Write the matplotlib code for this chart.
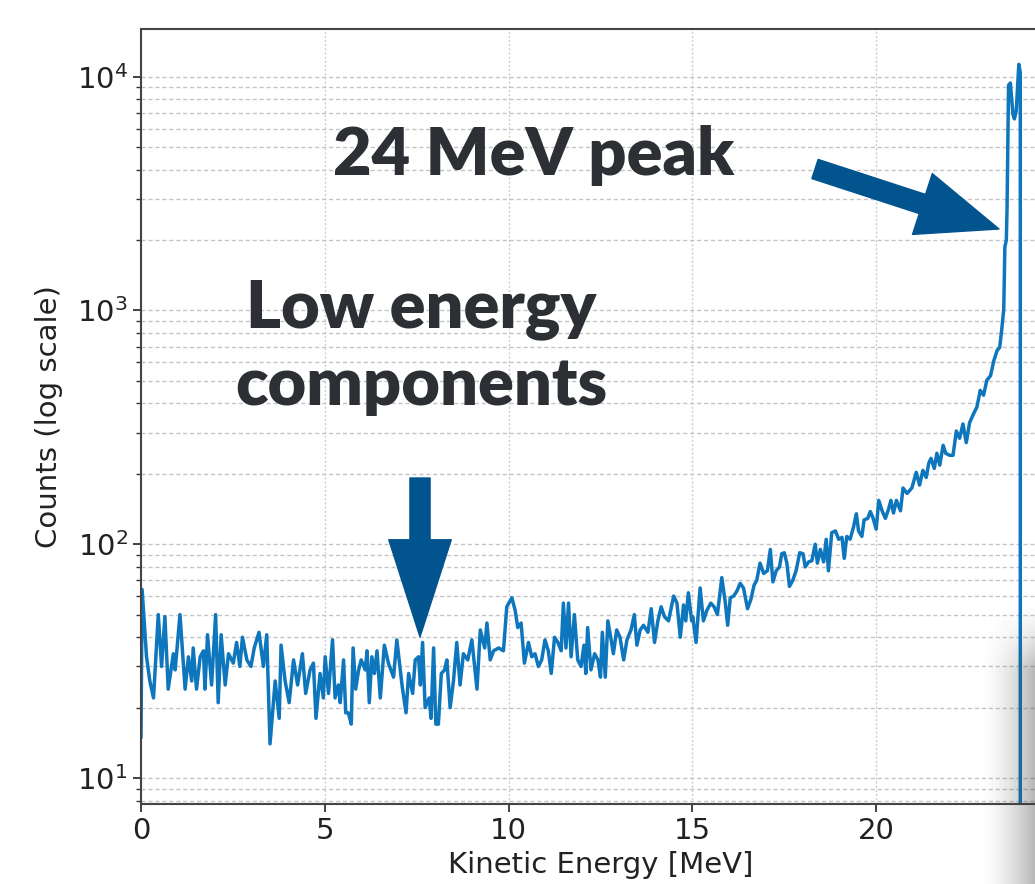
import matplotlib
matplotlib.use("Agg")
import matplotlib.pyplot as plt
import numpy as np

# Spectrum (energy in MeV, counts per bin)
energy_0_5 = [0.00, 0.03, 0.15, 0.24, 0.34, 0.47, 0.56, 0.65, 0.74, 0.88, 0.93, 1.06, 1.20, 1.29,
              1.38, 1.42, 1.51, 1.61, 1.70, 1.74, 1.81, 1.92, 2.03, 2.10, 2.18, 2.29, 2.38, 2.51,
              2.60, 2.69, 2.76, 2.88, 2.99, 3.08, 3.21, 3.33, 3.42, 3.51, 3.65, 3.76, 3.81, 3.92,
              4.03, 4.15, 4.26, 4.39, 4.48, 4.60, 4.69, 4.76, 4.87, 4.96]
counts_0_5 = [15, 64, 33, 26, 22, 50, 30, 49, 24, 34, 29, 50, 24, 33,
              26, 36, 24, 33, 35, 24, 41, 25, 50, 21, 41, 25, 34, 31,
              38, 30, 40, 32, 30, 36, 42, 30, 41, 14, 26, 18, 37, 26,
              21, 32, 25, 34, 23, 29, 31, 18, 28, 22]

energy_5_10 = [5.01, 5.10, 5.21, 5.28, 5.37, 5.42, 5.51, 5.57, 5.64, 5.72, 5.77, 5.84, 5.92, 5.99,
               6.10, 6.15, 6.21, 6.28, 6.35, 6.42, 6.51, 6.62, 6.73, 6.87, 6.96, 7.10, 7.21, 7.28,
               7.39, 7.46, 7.55, 7.60, 7.66, 7.73, 7.84, 7.89, 7.96, 8.02, 8.09, 8.17, 8.26, 8.32,
               8.41, 8.50, 8.59, 8.68, 8.77, 8.89, 9.00, 9.14, 9.23, 9.35, 9.41, 9.50, 9.59, 9.73,
               9.86, 9.95]
counts_5_10 = [33, 23, 39, 22, 25, 21, 32, 19, 19, 17, 36, 24, 29, 32,
               29, 35, 21, 33, 28, 35, 22, 37, 31, 27, 39, 25, 19, 28,
               23, 32, 33, 25, 38, 20, 22, 18, 36, 17, 17, 28, 29, 32,
               20, 26, 38, 25, 34, 32, 39, 24, 43, 36, 46, 32, 35, 36,
               35, 54]

energy_10_15 = [10.09, 10.18, 10.25, 10.34, 10.43, 10.54, 10.63, 10.72, 10.81, 10.90, 10.99, 11.08,
                11.16, 11.25, 11.34, 11.43, 11.49, 11.56, 11.63, 11.70, 11.79, 11.88, 11.97, 12.05,
                12.10, 12.15, 12.24, 12.34, 12.43, 12.50, 12.55, 12.63, 12.70, 12.79, 12.85, 12.94,
                13.03, 13.13, 13.22, 13.33, 13.42, 13.49, 13.58, 13.67, 13.79, 13.88, 13.97, 14.06,
                14.15, 14.24, 14.35, 14.49, 14.58, 14.67, 14.76, 14.82, 14.89, 14.98]
counts_10_15 = [59, 52, 44, 46, 31, 38, 33, 34, 30, 32, 39, 35,
                28, 40, 38, 35, 56, 36, 56, 33, 50, 32, 30, 37,
                28, 44, 29, 34, 32, 27, 42, 27, 47, 39, 34, 43,
                40, 32, 39, 43, 50, 37, 43, 45, 42, 53, 38, 47,
                54, 49, 47, 60, 56, 40, 55, 47, 62, 47]

energy_15_20 = [15.01, 15.10, 15.21, 15.30, 15.39, 15.50, 15.59, 15.68, 15.80, 15.89, 15.96, 16.03,
                16.12, 16.21, 16.30, 16.39, 16.50, 16.59, 16.68, 16.75, 16.84, 16.94, 17.04, 17.12,
                17.19, 17.28, 17.37, 17.43, 17.50, 17.57, 17.64, 17.73, 17.82, 17.92, 18.01, 18.07,
                18.16, 18.25, 18.34, 18.40, 18.48, 18.57, 18.64, 18.70, 18.79, 18.89, 18.98, 19.07,
                19.13, 19.20, 19.29, 19.38, 19.46, 19.52, 19.61, 19.67, 19.77, 19.84, 19.91, 20.00]
counts_15_20 = [49, 38, 65, 47, 52, 56, 54, 50, 72, 57, 45, 59,
                60, 63, 68, 65, 53, 58, 67, 70, 83, 75, 77, 95,
                69, 77, 80, 91, 92, 83, 66, 70, 77, 92, 91, 80,
                84, 85, 100, 83, 95, 84, 105, 77, 112, 114, 105, 107,
                87, 108, 105, 118, 135, 114, 108, 127, 129, 138, 130, 116]

energy_20_25 = [20.07, 20.16, 20.25, 20.34, 20.40, 20.47, 20.55, 20.66, 20.73, 20.84, 20.97, 21.09,
                21.18, 21.27, 21.36, 21.43, 21.49, 21.58, 21.65, 21.73, 21.82, 21.89, 22.00, 22.09,
                22.18, 22.27, 22.36, 22.45, 22.54, 22.65, 22.74, 22.83, 22.92, 23.01, 23.11, 23.20,
                23.29, 23.36, 23.42, 23.47, 23.50, 23.54, 23.56, 23.60, 23.65, 23.72, 23.76, 23.81,
                23.88, 23.92, 23.95, 25.00]
counts_20_25 = [154, 139, 129, 142, 154, 136, 154, 139, 174, 165, 174, 203,
                179, 207, 193, 222, 233, 211, 245, 218, 265, 245, 240, 240,
                305, 284, 327, 272, 331, 362, 386, 455, 434, 503, 526, 610,
                675, 695, 843, 1015, 1870, 2000, 2760, 9200, 9400, 6900, 6600, 7150,
                11300, 10400, 0, 0]

energy = energy_0_5 + energy_5_10 + energy_10_15 + energy_15_20 + energy_20_25
counts = counts_0_5 + counts_5_10 + counts_10_15 + counts_15_20 + counts_20_25

line_color = "#0e76bc"
arrow_color = "#02548f"
text_color = "#2c2f33"

W, H = 1035, 884
fig = plt.figure(figsize=(W / 100, H / 100), dpi=100)
fig.patch.set_facecolor("white")

# axes run past the right edge, as in the cropped screenshot
ax = fig.add_axes([141 / W, 80 / H, (1060 - 141) / W, (804 - 29) / H])
ax.plot(energy, counts, color=line_color, lw=2.5)
ax.set_yscale("log", nonpositive="clip")
ax.set_xlim(0, 25)
ax.set_ylim(7.74, 16000)
ax.set_xticks([0, 5, 10, 15, 20])

ax.grid(which="both", axis="y", ls=(0, (3, 2)), color="#c4c4c4", lw=1.0)
ax.grid(which="major", axis="x", ls=(0, (1.5, 1.5)), color="#cccccc", lw=1.0)
ax.tick_params(which="major", labelsize=21, length=6, width=1.3, colors="#333333", labelcolor="#222222")
ax.tick_params(which="minor", length=3.5, width=1.0, colors="#333333")
for s in ax.spines.values():
    s.set_color("#444444")
    s.set_linewidth(1.5)

ax.set_xlabel("Kinetic Energy [MeV]", fontsize=21, color="#222222", labelpad=4)
ax.set_ylabel("Counts (log scale)", fontsize=21, color="#222222", labelpad=10)

# annotations
fig.text(534 / W, 1 - 155 / H, "24 MeV peak", fontsize=48, fontweight="heavy", family="Lato",
         color=text_color, ha="center", va="center")
fig.text(421 / W, 1 - 310 / H, "Low energy", fontsize=48, fontweight="heavy", family="Lato",
         color=text_color, ha="center", va="center")
fig.text(421 / W, 1 - 385 / H, "components", fontsize=48, fontweight="heavy", family="Lato",
         color=text_color, ha="center", va="center")

ax.annotate("", xy=(999, H - 229), xycoords="figure pixels",
            xytext=(815, H - 169), textcoords="figure pixels",
            arrowprops=dict(arrowstyle="simple,head_length=0.58,head_width=0.46,tail_width=0.145",
                            mutation_scale=100, color=arrow_color, shrinkA=0, shrinkB=0))
ax.annotate("", xy=(420, H - 637), xycoords="figure pixels",
            xytext=(420, H - 478), textcoords="figure pixels",
            arrowprops=dict(arrowstyle="simple,head_length=0.70,head_width=0.45,tail_width=0.145",
                            mutation_scale=100, color=arrow_color, shrinkA=0, shrinkB=0))

# grey page shadow in the lower right corner, fading in from the top and left
sh = fig.add_axes([980 / W, 0, 55 / W, (884 - 600) / H], zorder=5)
gx = np.linspace(0, 1, 60)
gy = np.linspace(0, 1, 120)
alpha = np.outer(np.clip(gy * 4, 0, 1) ** 1.5, gx ** 1.6) * 0.38
img = np.zeros((120, 60, 4))
img[..., 3] = alpha
img[..., :3] = 0.25
sh.imshow(img, aspect="auto", extent=[0, 1, 0, 1], origin="upper")
sh.set_axis_off()

fig.savefig("out.png", dpi=100, facecolor="white")
